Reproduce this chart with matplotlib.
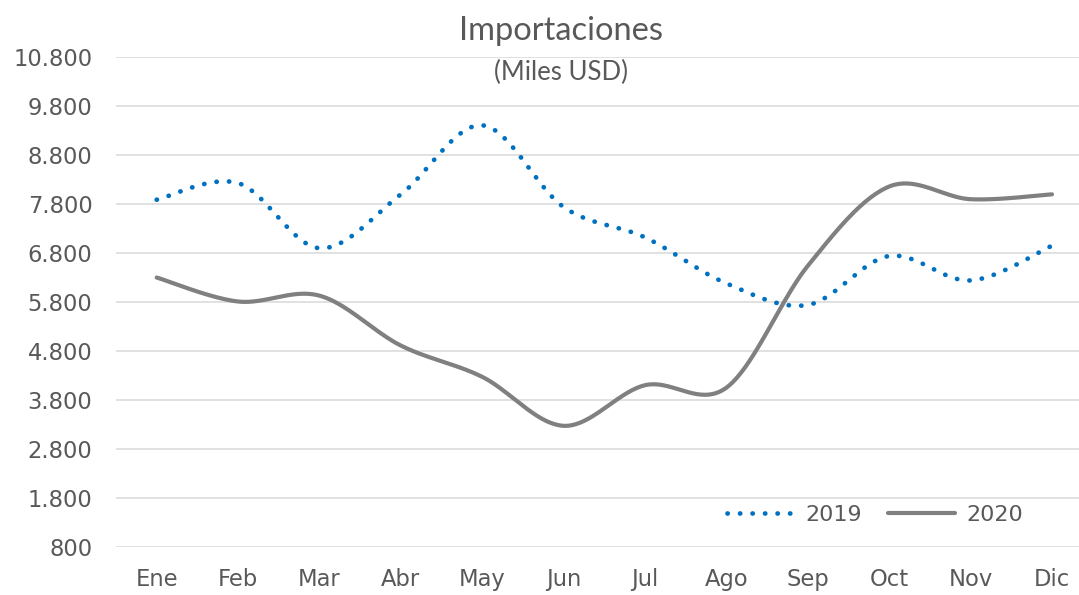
import numpy as np
import matplotlib
matplotlib.use("Agg")
import matplotlib.pyplot as plt
from matplotlib.ticker import FuncFormatter

# ---- data ----
months = ["Ene", "Feb", "Mar", "Abr", "May", "Jun", "Jul", "Ago", "Sep", "Oct", "Nov", "Dic"]
imp_2019 = [7890, 8230, 6900, 8000, 9410, 7740, 7120, 6180, 5740, 6740, 6240, 6950]
imp_2020 = [6300, 5810, 5930, 4910, 4270, 3270, 4100, 4050, 6540, 8160, 7900, 8000]
series_names = ["2019", "2020"]
y_ticks = list(range(800, 10801, 1000))
title = "Importaciones"
subtitle = "(Miles USD)"

W, H = 1079, 595
DPI = 100


def smooth(xs, ys, n=40):
    """Excel-like smoothed line: cubic Bezier segments with Catmull-Rom control points."""
    xs = np.asarray(xs, float)
    ys = np.asarray(ys, float)
    P = np.column_stack([xs, ys])
    Pp = np.vstack([P[0], P, P[-1]])
    out = []
    t = np.linspace(0, 1, n)[:, None]
    for i in range(len(P) - 1):
        p0 = Pp[i + 1]
        p3 = Pp[i + 2]
        c1 = p0 + (Pp[i + 2] - Pp[i]) / 6.0
        c2 = p3 - (Pp[i + 3] - Pp[i + 1]) / 6.0
        seg = ((1 - t) ** 3) * p0 + 3 * ((1 - t) ** 2) * t * c1 + 3 * (1 - t) * t ** 2 * c2 + t ** 3 * p3
        out.append(seg if i == 0 else seg[1:])
    arr = np.vstack(out)
    return arr[:, 0], arr[:, 1]


fig = plt.figure(figsize=(W / DPI, H / DPI), dpi=DPI)
fig.patch.set_facecolor("white")

left_px, right_px = 116, 1092.7
top_px, bottom_px = 57.3, 546.7
ax = fig.add_axes([left_px / W, 1 - bottom_px / H, (right_px - left_px) / W, (bottom_px - top_px) / H])
ax.set_facecolor("none")

x = np.arange(len(months))
sx, sy = smooth(x, imp_2019)
ax.plot(sx, sy, color="#0070C0", lw=3.4, linestyle=(0, (0.05, 2.6)),
        dash_capstyle="round", solid_capstyle="round", label=series_names[0], zorder=3)
sx, sy = smooth(x, imp_2020)
ax.plot(sx, sy, color="#808080", lw=3.0, solid_capstyle="round", label=series_names[1], zorder=3)

ax.set_xlim(-0.5, len(months) - 0.5)
ax.set_ylim(y_ticks[0], y_ticks[-1])
ax.set_yticks(y_ticks)
ax.yaxis.set_major_formatter(FuncFormatter(lambda v, p: f"{int(v):,}".replace(",", ".")))
ax.set_xticks(x)
ax.set_xticklabels(months)

for s in ax.spines.values():
    s.set_visible(False)
ax.grid(axis="y", color="#D9D9D9", lw=1.1, zorder=0)
ax.grid(axis="x", visible=False)
ax.tick_params(axis="both", length=0, colors="#595959", labelsize=16.3)
ax.tick_params(axis="y", pad=17)
ax.tick_params(axis="x", pad=15)
for lab in ax.get_xticklabels() + ax.get_yticklabels():
    lab.set_fontfamily("DejaVu Sans")
    lab.set_color("#595959")
ax.set_axisbelow(True)

leg = ax.legend(loc="center", bbox_to_anchor=(875 / W, 1 - 515 / H), bbox_transform=fig.transFigure,
                ncol=2, frameon=False, handlelength=3.0, handletextpad=0.5, columnspacing=1.2,
                prop={"family": "DejaVu Sans", "size": 16})
for t in leg.get_texts():
    t.set_color("#595959")

fig.text(561 / W, 1 - 31 / H, title, ha="center", va="center", fontsize=23.5,
         color="#595959", family="Lato")
fig.text(561 / W, 1 - 72 / H, subtitle, ha="center", va="center", fontsize=18.5,
         color="#595959", family="Lato")

fig.savefig("out.png", dpi=DPI, facecolor="white")
